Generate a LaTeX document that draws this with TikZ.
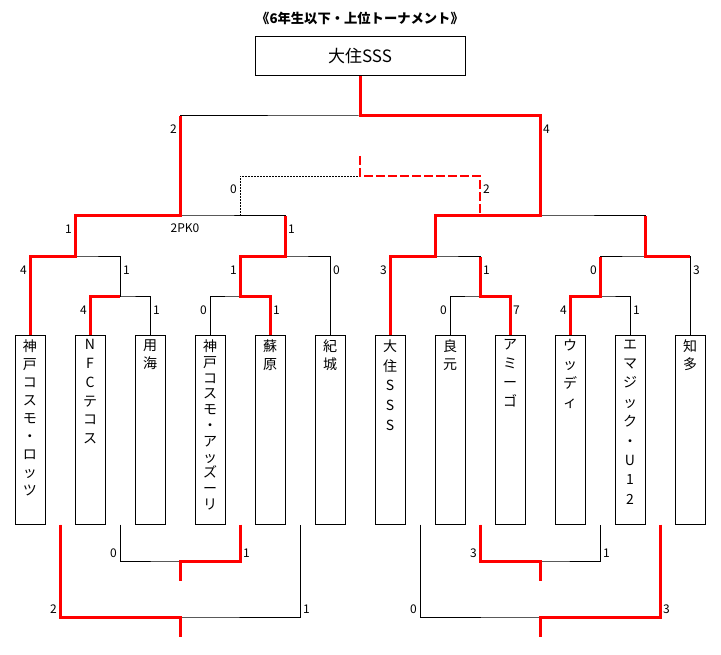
\documentclass[tikz,border=0pt]{standalone}
\usepackage{fontspec}
\setmainfont{Noto Sans CJK JP}
\usetikzlibrary{calc}

\begin{document}
\begin{tikzpicture}[x=1pt,y=-1pt,
        lose/.style={black,line width=1pt},
        win/.style={red,line width=3pt},
        team/.style={draw,line width=1pt,minimum width=30pt,minimum height=188pt,inner sep=0pt},
        tname/.style={anchor=north,align=center,inner sep=0pt},
        sl/.style={anchor=east,inner sep=0pt,font=\fontsize{12}{12}\selectfont},
        sr/.style={anchor=west,inner sep=0pt,font=\fontsize{12}{12}\selectfont}]
    \useasboundingbox (0,0) rectangle (721,655);

    \node[font=\bfseries\fontsize{13.3}{13.3}\selectfont] (title) at (360,18) {《6年生以下・上位トーナメント》};
    \node[draw,line width=1pt,minimum width=210pt,minimum height=39pt,inner sep=0pt,
        font=\fontsize{17}{17}\selectfont] (final) at (360,56.5) {大住SSS};

    % teams
    \foreach \tn/\sk [count=\i] in {{神\\戸\\コ\\ス\\モ\\・\\ロ\\ッ\\ツ}/18,{N\\F\\C\\テ\\コ\\ス}/18.7,{用\\海}/18,
        {神\\戸\\コ\\ス\\モ\\・\\ア\\ッ\\ズ\\ー\\リ}/15.8,{蘇\\原}/18,{紀\\城}/18,
        {大\\住\\S\\S\\S}/19.7,{良\\元}/18.3,{ア\\ミ\\ー\\ゴ}/19,{ウ\\ッ\\デ\\ィ}/19,
        {エ\\マ\\ジ\\ッ\\ク\\・\\U\\1\\2}/19.4,{知\\多}/18}
    {
        \node[team] (t\i) at ({60*\i-30},430) {};
        \node[tname,font=\fontsize{14}{\sk}\selectfont] (n\i) at ([yshift=-4pt]t\i.north) {\tn};
    }

    % match points
    \coordinate (m1) at (120,297);
    \coordinate (m2) at (240,297);
    \coordinate (m3) at (480,297);
    \coordinate (m4) at (600,297);
    \coordinate (m5) at (75,257);
    \coordinate (m6) at (285,257);
    \coordinate (m7) at (435,257);
    \coordinate (m8) at (645,257);
    \coordinate (m9) at (180,216);
    \coordinate (m10) at (540,216);
    \coordinate (m11) at (360,116);
    \coordinate (d1) at (240,216);
    \coordinate (d2) at (480,216);
    \coordinate (dm) at (360,176);
    \coordinate (dtop) at (360,156);

    \draw[lose] (t2.north) |- (m1) -| (t3.north);
    \draw[lose] (t4.north) |- (m2) -| (t5.north);
    \draw[lose] (t8.north) |- (m3) -| (t9.north);
    \draw[lose] (t10.north) |- (m4) -| (t11.north);
    \draw[lose] (t1.north) |- (m5) -| (m1);
    \draw[lose] (m2) |- (m6) -| (t6.north);
    \draw[lose] (t7.north) |- (m7) -| (m3);
    \draw[lose] (m4) |- (m8) -| (t12.north);
    \draw[lose] (m5) |- (m9) -| (m6);
    \draw[lose] (m7) |- (m10) -| (m8);
    \draw[lose] (m9) |- (m11) -| (m10);
    \draw[lose] (m11) -- (final.south);

    \draw[black,line width=0.8pt,dash pattern=on 2pt off 1pt] (d1) |- (dm);
    \draw[red,line width=2pt,dash pattern=on 9pt off 3pt] (dtop) -- (dm) -| (d2);

    \draw[win] (t7.north) |- (m7) |- (m10) |- (m11) -- (final.south);
    \draw[win] (t1.north) |- (m5) |- (m9) -- (m9 |- m11);
    \draw[win] (t5.north) |- (m2) |- (m6) -- (m6 |- m9);
    \draw[win] (t2.north) |- (m1);
    \draw[win] (t9.north) |- (m3) -- (m3 |- m7);
    \draw[win] (t10.north) |- (m4) -- (m4 |- m8);
    \draw[win] (m8 -| t12) -| (m8 |- m10);

    % lower brackets
    \coordinate (c1) at ($(t2.south)!.5!(t3.south)$);
    \coordinate (c2) at ($(t4.south)!.5!(t5.south)$);
    \coordinate (c3) at ($(t1.south)!.5!(t2.south)$);
    \coordinate (c4) at ($(t5.south)!.5!(t6.south)$);
    \coordinate (c5) at ($(t8.south)!.5!(t9.south)$);
    \coordinate (c6) at ($(t10.south)!.5!(t11.south)$);
    \coordinate (c7) at ($(t7.south)!.5!(t8.south)$);
    \coordinate (c8) at ($(t11.south)!.5!(t12.south)$);
    \coordinate (b1) at (180,561);
    \coordinate (b2) at (180,617);
    \coordinate (b3) at (540,561);
    \coordinate (b4) at (540,617);
    \coordinate (s1) at (180,581);
    \coordinate (s2) at (180,637);
    \coordinate (s3) at (540,581);
    \coordinate (s4) at (540,637);

    \draw[lose] (c1) |- (b1) -| (c2);
    \draw[lose] (c3) |- (b2) -| (c4);
    \draw[lose] (c5) |- (b3) -| (c6);
    \draw[lose] (c7) |- (b4) -| (c8);
    \draw[win] (c2) |- (b1) -- (s1);
    \draw[win] (c3) |- (b2) -- (s2);
    \draw[win] (c5) |- (b3) -- (s3);
    \draw[win] (c8) |- (b4) -- (s4);

    % scores
    \foreach \x/\y/\s [count=\i] in {177/129/2,72/229/1,237/189/0,27/270/4,237/270/1,387/270/3,
        597/270/0,87/310/4,207/310/0,447/310/0,567/310/4,117/553/0,57/609/2,477/553/3,417/609/0}
        \node[sl] (l\i) at (\x,\y) {\s};
    \foreach \x/\y/\s [count=\i] in {543/129/4,288/229/1,483/189/2,123/270/1,333/270/0,483/270/1,
        693/270/3,153/310/1,273/310/1,513/310/7,633/310/1,243/553/1,303/609/1,603/553/1,663/609/3}
        \node[sr] (r\i) at (\x,\y) {\s};
    \node[font=\fontsize{12}{12}\selectfont,inner sep=0pt] (pk) at (185,228) {2PK0};
\end{tikzpicture}
\end{document}
